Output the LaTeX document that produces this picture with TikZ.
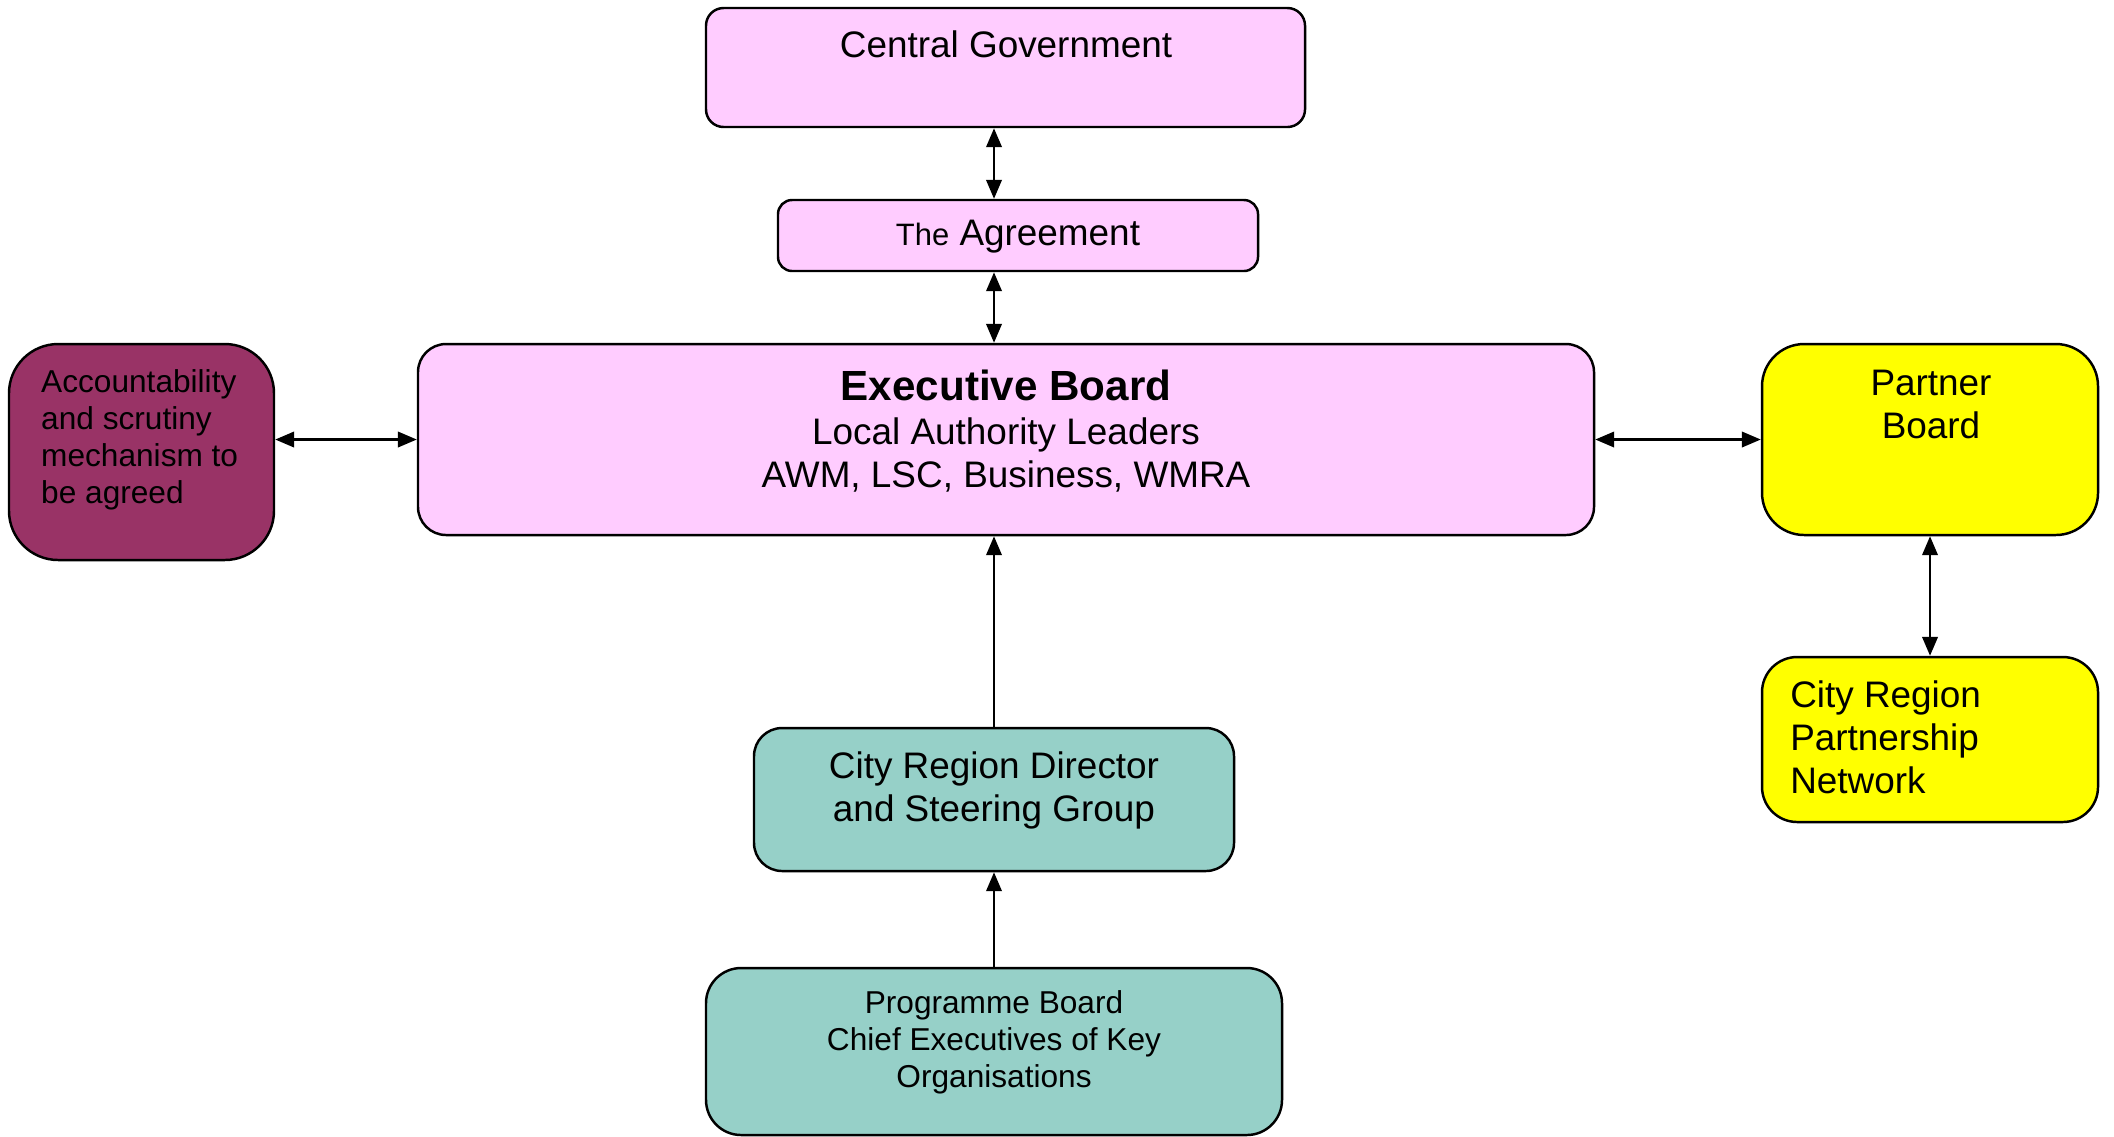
\documentclass[tikz,border=0pt]{standalone}
\usepackage{fontspec}
\setmainfont{Liberation Sans}
\usepackage{tikz}
\usetikzlibrary{shapes}
\usetikzlibrary{arrows.meta}
\definecolor{pinkbox}{RGB}{255,204,255}
\definecolor{maroonbox}{RGB}{153,51,102}
\definecolor{yellowbox}{RGB}{255,255,0}
\definecolor{tealbox}{RGB}{150,208,200}
\tikzset{
  box/.style={rectangle,draw,line width=0.7pt,inner sep=0pt},
  txt/.style={inner sep=0pt,font=\fontsize{10.5}{12.2}\selectfont},
  smalltxt/.style={inner sep=0pt,font=\fontsize{9}{10.5}\selectfont}
}

\begin{document}
\begin{tikzpicture}[<->,>={Triangle[length=5.4pt,width=4.4pt]},line width=0.7pt]
        \useasboundingbox (0,0) rectangle (21.14,-11.36);
        % boxes
        \node [box,fill=pinkbox,rounded corners=5pt,minimum width=5.99cm,minimum height=1.19cm] (cg) at (10.055,-0.675) {};
        \node [box,fill=pinkbox,rounded corners=4pt,minimum width=4.80cm,minimum height=0.71cm] (agr) at (10.18,-2.355) {};
        \node [box,fill=pinkbox,rounded corners=8pt,minimum width=11.76cm,minimum height=1.91cm] (eb) at (10.06,-4.395) {};
        \node [box,fill=maroonbox,rounded corners=14pt,minimum width=2.65cm,minimum height=2.16cm] (acc) at (1.415,-4.52) {};
        \node [box,fill=yellowbox,rounded corners=12pt,minimum width=3.36cm,minimum height=1.91cm] (pb) at (19.30,-4.395) {};
        \node [box,fill=yellowbox,rounded corners=10pt,minimum width=3.36cm,minimum height=1.65cm] (crpn) at (19.30,-7.395) {};
        \node [box,fill=tealbox,rounded corners=8pt,minimum width=4.80cm,minimum height=1.43cm] (dir) at (9.94,-7.995) {};
        \node [box,fill=tealbox,rounded corners=10pt,minimum width=5.76cm,minimum height=1.67cm] (prog) at (9.94,-10.515) {};
        % texts
        \node [txt] (cgtxt) at (10.06,-0.44) {Central Government};
        \node [txt] (agrtxt) at (10.18,-2.37) {{\fontsize{8.8}{10}\selectfont The} Agreement};
        \node [txt,align=center] (ebtxt) at (10.06,-4.31)
          {{\bfseries\fontsize{12}{14}\selectfont Executive Board}\\[0.5pt] Local Authority Leaders\\ AWM, LSC, Business, WMRA};
        \node [smalltxt,align=left,anchor=west] (acctxt) at (0.40,-4.40)
          {Accountability\\ and scrutiny\\ mechanism to\\ be agreed};
        \node [txt,align=center] (pbtxt) at (19.31,-4.045) {Partner\\ Board};
        \node [txt,align=left,anchor=west] (crpntxt) at (17.89,-7.37)
          {City Region\\ Partnership\\ Network};
        \node [txt,align=center] (dirtxt) at (9.94,-7.90) {City Region Director\\ and Steering Group};
        \node [smalltxt,align=center] (progtxt) at (9.94,-10.42)
          {Programme Board\\ Chief Executives of Key\\ Organisations};
        % connectors
        \draw (dir.north |- cg.south) -- (dir.north |- agr.north);
        \draw (dir.north |- agr.south) -- (dir.north |- eb.north);
        \draw [->] (dir.north) -- (dir.north |- eb.south);
        \draw [->] (prog.north) -- (dir.south);
        \draw (acc.east |- eb.west) -- (eb.west);
        \draw (eb.east) -- (pb.west);
        \draw (pb.south) -- (crpn.north);
\end{tikzpicture}
\end{document}
